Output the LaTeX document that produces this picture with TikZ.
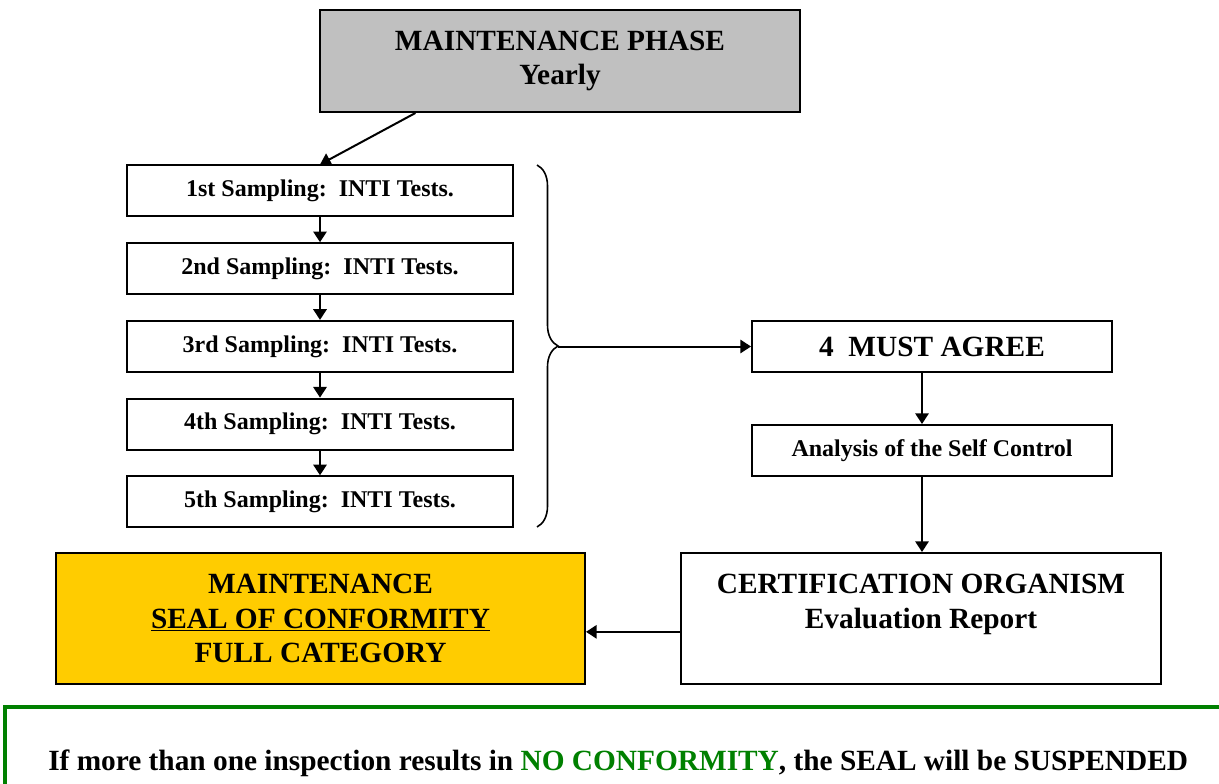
\documentclass[tikz,border=0pt]{standalone}
\usepackage{fontspec}
\setmainfont{Liberation Serif}
\usepackage{xcolor}
\usepackage{tikz}
\usetikzlibrary{
	arrows.meta,calc,decorations.pathreplacing
}
\definecolor{phasegray}{RGB}{192,192,192}
\definecolor{sealyellow}{RGB}{255,204,0}
\definecolor{notegreen}{RGB}{0,128,0}
\newcommand{\bigtxt}{\fontsize{22}{26}\selectfont\bfseries}
\newcommand{\smalltxt}{\fontsize{18}{22}\selectfont\bfseries}
\tikzset{
	box/.style={draw,line width=1.5pt,inner sep=0pt,align=center},
	samplebox/.style={box,minimum width=289.5pt,minimum height=38.25pt,font=\smalltxt},
	rightbox/.style={box,minimum width=270pt,minimum height=38.25pt},
	bigbox/.style={box,minimum width=360pt,minimum height=98.25pt,font=\bigtxt}
}

\begin{document}
\begin{tikzpicture}[x=0.75pt,y=-0.75pt]
		\useasboundingbox (0,0) rectangle (1219,784);
		\node[box,fill=phasegray,minimum width=360pt,minimum height=76.5pt,font=\bigtxt] (phase) at (560,61) {MAINTENANCE PHASE\\Yearly};
		\foreach \n/\lbl in {1/1st,2/2nd,3/3rd,4/4th,5/5th}
			\node[samplebox] (s\n) at (320,{191+77.7*(\n-1)}) {\lbl\ Sampling:\ \ INTI Tests.};
		\node[rightbox,font=\bigtxt] (agree) at (932,346.5) {4\ \ MUST AGREE};
		\node[rightbox,font=\smalltxt] (analysis) at (932,450.5) {Analysis of the Self Control};
		\node[bigbox] (cert) at (921,618.5) {CERTIFICATION ORGANISM\\Evaluation Report\\\mbox{}};
		\node[bigbox,fill=sealyellow,minimum width=396.75pt] (seal) at (320.5,618.5) {MAINTENANCE\\\underline{SEAL OF CONFORMITY}\\FULL CATEGORY};
		\coordinate (btop) at (537,165);
		\coordinate (bbot) at (537,527);
		\coordinate (btip) at (558,346.5);
		\draw[line width=1.2pt,decorate,decoration={brace,amplitude=15.75pt}] (btop) -- (bbot);
				%
		\path[->,line width=1.5pt,>={Triangle[length=8pt,width=10pt]}]
		($(phase.south west)!0.2!(phase.south east)$) edge (s1.north)
		(s1) edge (s2)
		(s2) edge (s3)
		(s3) edge (s4)
		(s4) edge (s5)
		(btip) edge (agree.west)
		([xshift=-7.5pt]agree.south) edge ([xshift=-7.5pt]analysis.north)
		([xshift=-7.5pt]analysis.south) edge ([xshift=-7.5pt]analysis.south |- cert.north)
		([yshift=-10pt]cert.west) edge ([yshift=-10pt]seal.east);
				%
		\draw[notegreen,line width=3pt] (5,707) rectangle (1240,800);
		\node[anchor=west,inner sep=0pt,font=\bigtxt] (note) at (48,763) {If more than one inspection results in \textcolor{notegreen}{NO CONFORMITY}, the SEAL will be SUSPENDED};
	\end{tikzpicture}
\end{document}
